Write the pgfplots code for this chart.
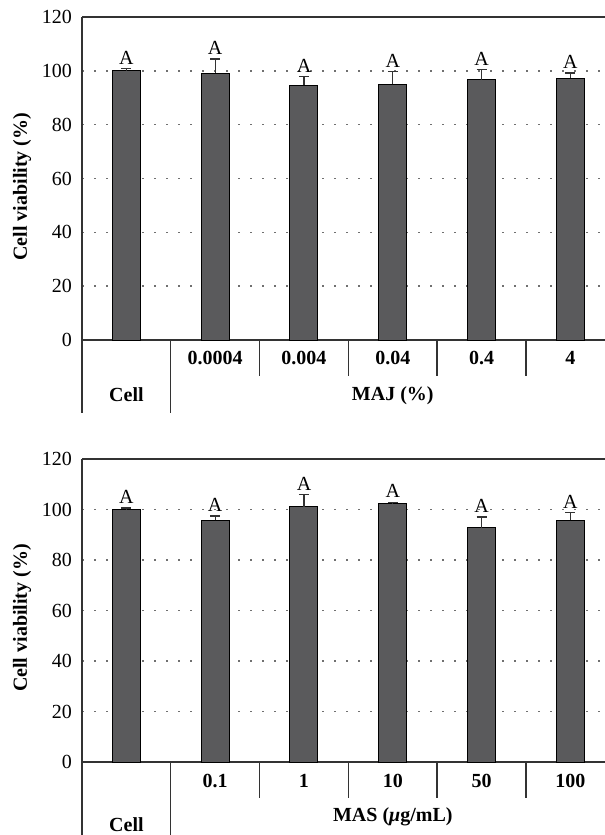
\documentclass[border=0pt]{standalone}
\usepackage{fontspec}
\setmainfont{Liberation Serif}
\usepackage{pgfplots}
\usepackage{pgfplotstable}
\pgfplotsset{compat=1.18}

\definecolor{barfill}{HTML}{5A5A5C}
\definecolor{axisgray}{HTML}{333333}
\definecolor{griddot}{HTML}{707070}

% mean viability and upper error (SD)
\pgfplotstableread{
x v e
0 100.0 0.8
1 99.1 5.3
2 94.7 3.1
3 95.0 4.7
4 96.7 3.7
5 97.3 1.9
}\majdata
\pgfplotstableread{
x v e
0 99.9 0.7
1 95.7 1.7
2 101.1 4.9
3 102.2 0.7
4 92.7 4.3
5 95.7 3.0
}\masdata

\newcommand{\lbl}{\fontsize{20bp}{23bp}\selectfont}
\tikzset{rule/.style={axisgray, line width=1.4bp}}

\pgfplotsset{viab/.style={
  scale only axis, width=523bp,
  xmin=-0.5, xmax=5.39, ymin=0, ymax=120,
  ytick={0,20,...,120}, xtick=\empty,
  axis lines*=left,
  axis line style={axisgray, line width=1.4bp},
  ymajorgrids,
  grid style={griddot, line width=1.5bp, dash pattern=on 1.5bp off 10.5bp},
  major tick length=0pt,
  yticklabel style={font=\lbl, inner sep=0pt, xshift=-10bp},
  /pgf/number format/assume math mode=true,
  clip=false,
  anchor=south west,
}}

\pgfplotsset{barplot/.style={
  ybar, bar shift=0pt, bar width=28bp,
  fill=barfill, draw=black, line width=1bp,
  error bars/.cd, y dir=plus, y explicit,
  error bar style={axisgray, line width=1.2bp},
  error mark options={rotate=90, mark size=5bp, line width=1.2bp, axisgray},
}}

\pgfplotsset{letters/.style={
  draw=none, mark=none,
  nodes near coords={A},
  nodes near coords style={anchor=south, inner sep=0pt, yshift=4bp, font=\lbl, text=black},
}}

\begin{document}
\begin{tikzpicture}
\useasboundingbox (0,0) rectangle (605bp,-835bp);

% ---- MAJ panel ----
\begin{axis}[viab, height=323bp, at={(82bp,-340bp)}]
  \addplot[barplot] table[x=x, y=v, y error=e] \majdata;
  \addplot[letters] table[x=x, y expr=\thisrow{v}+\thisrow{e}] \majdata;
  \draw[rule] (rel axis cs:0,1) -- (rel axis cs:1,1);
  \draw[rule] (axis cs:-0.5,0) -- ++(0pt,-73bp);
  \draw[rule] (axis cs:0.5,0) -- ++(0pt,-73bp);
  \pgfplotsinvokeforeach{1.5,2.5,3.5,4.5}{
    \draw[rule] (axis cs:#1,0) -- ++(0pt,-36bp);
  }
  \node[font=\lbl\bfseries, anchor=center] at ([yshift=-18bp]axis cs:1,0) {0.0004};
  \node[font=\lbl\bfseries, anchor=center] at ([yshift=-18bp]axis cs:2,0) {0.004};
  \node[font=\lbl\bfseries, anchor=center] at ([yshift=-18bp]axis cs:3,0) {0.04};
  \node[font=\lbl\bfseries, anchor=center] at ([yshift=-18bp]axis cs:4,0) {0.4};
  \node[font=\lbl\bfseries, anchor=center] at ([yshift=-18bp]axis cs:5,0) {4};
  \node[font=\lbl\bfseries, anchor=center] at ([yshift=-55bp]axis cs:0,0) {Cell};
  \node[font=\lbl\bfseries, anchor=center] at ([yshift=-56bp]axis cs:3,0) {MAJ (\%)};
  \node[font=\lbl\bfseries, rotate=90, anchor=center] at ([xshift=-60bp]axis cs:-0.5,57) {Cell viability (\%)};
\end{axis}

% ---- MAS panel ----
\begin{axis}[viab, height=303bp, at={(82bp,-762bp)}]
  \addplot[barplot] table[x=x, y=v, y error=e] \masdata;
  \addplot[letters] table[x=x, y expr=\thisrow{v}+\thisrow{e}] \masdata;
  \draw[rule] (rel axis cs:0,1) -- (rel axis cs:1,1);
  \draw[rule] (axis cs:-0.5,0) -- ++(0pt,-73bp);
  \draw[rule] (axis cs:0.5,0) -- ++(0pt,-73bp);
  \pgfplotsinvokeforeach{1.5,2.5,3.5,4.5}{
    \draw[rule] (axis cs:#1,0) -- ++(0pt,-36bp);
  }
  \node[font=\lbl\bfseries, anchor=center] at ([yshift=-19bp]axis cs:1,0) {0.1};
  \node[font=\lbl\bfseries, anchor=center] at ([yshift=-19bp]axis cs:2,0) {1};
  \node[font=\lbl\bfseries, anchor=center] at ([yshift=-19bp]axis cs:3,0) {10};
  \node[font=\lbl\bfseries, anchor=center] at ([yshift=-19bp]axis cs:4,0) {50};
  \node[font=\lbl\bfseries, anchor=center] at ([yshift=-19bp]axis cs:5,0) {100};
  \node[font=\lbl\bfseries, anchor=center] at ([yshift=-63bp]axis cs:0,0) {Cell};
  \node[font=\lbl\bfseries, anchor=center] at ([yshift=-55bp]axis cs:3,0) {MAS (\textit{μ}g/mL)};
  \node[font=\lbl\bfseries, rotate=90, anchor=center] at ([xshift=-60bp]axis cs:-0.5,57) {Cell viability (\%)};
\end{axis}
\end{tikzpicture}
\end{document}
